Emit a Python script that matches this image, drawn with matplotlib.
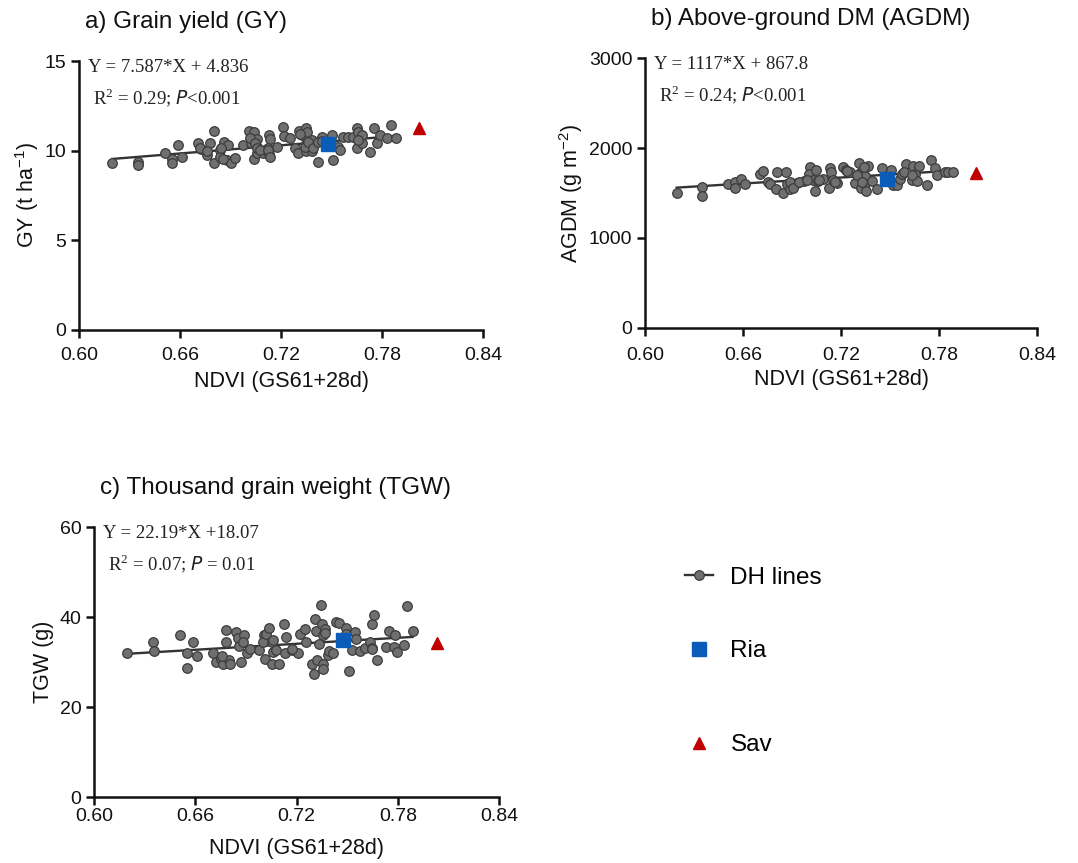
import matplotlib
matplotlib.use("Agg")
import matplotlib.pyplot as plt
from matplotlib.lines import Line2D
import numpy as np

plt.rcParams['font.family'] = ['Liberation Sans', 'DejaVu Sans']

# ---------------- data ----------------
# Panel a: Grain yield
gy_ndvi = [0.6198, 0.6352, 0.6352, 0.651, 0.655, 0.655, 0.6586, 0.661, 0.6709, 0.6722,
           0.6762, 0.6778, 0.6804, 0.6804, 0.6838, 0.6838, 0.6861, 0.6887, 0.6877, 0.6903,
           0.6927, 0.6976, 0.7012, 0.704, 0.702, 0.7055, 0.706, 0.704, 0.7055, 0.7095,
           0.713, 0.7133, 0.712, 0.713, 0.7174, 0.7209, 0.7217, 0.7253, 0.7283, 0.7303,
           0.7307, 0.7323, 0.7349, 0.7357, 0.7349, 0.7349, 0.7382, 0.7386, 0.7418, 0.7442,
           0.7501, 0.7511, 0.754, 0.7551, 0.757, 0.760, 0.763, 0.765, 0.7657, 0.765,
           0.768, 0.768, 0.7729, 0.7752, 0.7769, 0.7788, 0.7828, 0.7851, 0.7883,
           0.6719, 0.6758, 0.6842, 0.6857, 0.7016, 0.7046, 0.7056, 0.7075, 0.7125, 0.7135,
           0.7313, 0.7343, 0.7362, 0.7392, 0.7422, 0.7446, 0.766]
gy_vals = [9.33, 9.35, 9.20, 9.85, 9.52, 9.30, 10.32, 9.63, 10.41, 10.10,
           9.76, 10.41, 11.10, 9.30, 10.04, 9.67, 10.50, 10.32, 9.48, 9.33,
           9.57, 10.32, 11.10, 11.02, 10.41, 10.63, 10.22, 9.52, 9.85, 9.89,
           10.88, 10.63, 10.15, 9.82, 10.22, 11.34, 10.82, 10.69, 10.13, 9.85,
           11.10, 10.89, 11.28, 11.06, 10.37, 9.96, 9.98, 10.60, 9.35, 10.78,
           10.88, 9.48, 10.22, 10.04, 10.78, 10.78, 10.78, 11.25, 11.06, 10.13,
           10.41, 10.88, 9.90, 11.25, 10.45, 10.88, 10.69, 11.43, 10.69,
           10.13, 9.98, 10.13, 9.52, 10.69, 10.41, 10.13, 10.04, 10.04, 9.67,
           10.95, 10.22, 10.50, 10.13, 10.50, 10.56, 10.60]
gy_ria = (0.748, 10.37)
gy_sav = (0.8022, 11.28)
gy_fit = (7.587, 4.836)

# Panel b: Above-ground DM
dm_ndvi = [0.6194, 0.6351, 0.6351, 0.651, 0.6551, 0.6551, 0.6588, 0.6612, 0.6704, 0.6725,
           0.6755, 0.6765, 0.6806, 0.6802, 0.6863, 0.6843, 0.6867, 0.689, 0.6928, 0.6975,
           0.701, 0.7006, 0.7027, 0.7041, 0.7047, 0.7061, 0.7092, 0.7133, 0.7137, 0.7129,
           0.7153, 0.7174, 0.721, 0.7231, 0.7255, 0.7286, 0.7312, 0.7316, 0.732, 0.7347,
           0.7353, 0.7367, 0.7347, 0.7388, 0.7418, 0.7449, 0.7504, 0.7516, 0.7545, 0.7561,
           0.7571, 0.7598, 0.7639, 0.7633, 0.7653, 0.7663, 0.768, 0.7729, 0.7751, 0.7775,
           0.779, 0.7837, 0.7857, 0.7888,
           0.689, 0.6909, 0.694, 0.699, 0.7063, 0.7165, 0.7236, 0.7297, 0.7338, 0.7328,
           0.7583, 0.7635]
dm_vals = [1503, 1563, 1467, 1596, 1626, 1559, 1655, 1596, 1707, 1745,
           1626, 1596, 1730, 1541, 1730, 1496, 1600, 1541, 1615, 1637,
           1785, 1707, 1640, 1526, 1756, 1630, 1660, 1774, 1737, 1552,
           1644, 1615, 1785, 1756, 1730, 1607, 1837, 1726, 1552, 1615,
           1526, 1800, 1693, 1637, 1541, 1774, 1756, 1589, 1589, 1660,
           1715, 1818, 1800, 1648, 1715, 1637, 1800, 1589, 1867, 1774,
           1704, 1737, 1737, 1737,
           1626, 1552, 1626, 1644, 1644, 1626, 1744, 1700, 1792, 1626,
           1731, 1700]
dm_ria = (0.748, 1652)
dm_sav = (0.8027, 1726)
dm_fit = (1117, 867.8)

# Panel c: Thousand grain weight
tgw_ndvi = [0.6198, 0.635, 0.6354, 0.651, 0.6554, 0.6554, 0.6587, 0.6613, 0.6706, 0.6722,
            0.6755, 0.6765, 0.6781, 0.6781, 0.6801, 0.6805, 0.6844, 0.6854, 0.686, 0.687,
            0.689, 0.688, 0.6904, 0.6927, 0.6979, 0.7008, 0.7002, 0.7022, 0.7038, 0.7012,
            0.7052, 0.7052, 0.7062, 0.7077, 0.7097, 0.7127, 0.7137, 0.7131, 0.7176, 0.7206,
            0.722, 0.7249, 0.7255, 0.7289, 0.7303, 0.7309, 0.7315, 0.7319, 0.7334, 0.7348,
            0.7354, 0.7358, 0.7358, 0.7358, 0.7368, 0.7388, 0.7394, 0.7418, 0.7433, 0.7453,
            0.7491, 0.7496, 0.7512, 0.7526, 0.7546, 0.7552, 0.7575, 0.7605, 0.7635, 0.7645,
            0.765, 0.7661, 0.765, 0.7675, 0.773, 0.775, 0.7779, 0.7783, 0.7793, 0.7839,
            0.7857, 0.7888, 0.676, 0.7063, 0.7172, 0.7368]
tgw_vals = [32.1, 34.4, 32.4, 35.9, 32.0, 28.7, 34.4, 31.3, 32.0, 30.0,
            30.7, 29.5, 37.2, 34.4, 30.4, 29.5, 36.7, 35.3, 33.5, 30.1,
            35.9, 34.4, 32.0, 33.0, 32.6, 35.9, 34.4, 36.3, 37.6, 30.7,
            34.4, 29.6, 32.2, 32.6, 29.5, 38.5, 35.6, 31.9, 32.6, 32.0,
            36.3, 37.4, 34.4, 29.5, 27.4, 39.6, 36.8, 30.4, 34.1, 42.6,
            38.5, 35.9, 29.6, 28.5, 37.4, 31.5, 32.4, 31.9, 38.9, 38.7,
            37.6, 36.3, 28.1, 32.6, 36.7, 35.2, 32.4, 33.1, 34.4, 33.1,
            38.5, 40.4, 33.0, 30.4, 33.3, 37.0, 33.3, 36.1, 32.2, 33.7,
            42.4, 36.9, 31.4, 34.9, 32.8, 36.5]
tgw_ria = (0.7477, 35.0)
tgw_sav = (0.803, 34.2)
tgw_fit = (22.19, 18.07)

x_ticks = [0.60, 0.66, 0.72, 0.78, 0.84]
x_ticklabels = ["0.60", "0.66", "0.72", "0.78", "0.84"]

# ---------------- style ----------------
W, H = 1078, 863
fig = plt.figure(figsize=(W / 100, H / 100), dpi=100)

dh_face = '#6f6f6f'
dh_edge = '#3c3c3c'
line_col = '#333333'
ria_col = '#0a5cb8'
sav_col = '#c00000'
MS = 6.9


def px_axes(left, top, right, bottom):
    return fig.add_axes([left / W, 1 - bottom / H, (right - left) / W, (bottom - top) / H])


def panel(ax, xs, ys, ria, sav, fit, ylim, yticks, ylabel, title, eq1, eq2,
          ylabelpad, xpad, xlabelpad):
    slope, icpt = fit
    xl = np.array([min(xs), max(xs)])
    ax.plot(xl, slope * xl + icpt, color=line_col, lw=1.7, zorder=2)
    ax.plot(xs, ys, 'o', ms=MS, mfc=dh_face, mec=dh_edge, mew=0.9, zorder=3)
    ax.plot([ria[0]], [ria[1]], 's', ms=9.5, color=ria_col, zorder=4)
    ax.plot([sav[0]], [sav[1]], '^', ms=9, color=sav_col, zorder=4)
    ax.set_xlim(0.60, 0.84)
    ax.set_ylim(*ylim)
    ax.set_xticks(x_ticks)
    ax.set_xticklabels(x_ticklabels)
    ax.set_yticks(yticks)
    for s in ('top', 'right'):
        ax.spines[s].set_visible(False)
    for s in ('left', 'bottom'):
        ax.spines[s].set_linewidth(1.8)
        ax.spines[s].set_color('#111111')
    ax.tick_params(direction='out', length=6, width=1.8, labelsize=14, color='#111111',
                   labelcolor='#111111', pad=3)
    ax.tick_params(axis='x', pad=xpad)
    ax.set_xlabel("NDVI (GS61+28d)", fontsize=15.5, labelpad=xlabelpad, color='#111111')
    ax.set_ylabel(ylabel, fontsize=15.5, labelpad=ylabelpad, color='#111111')
    ax.text(0.015, 1.145, title, transform=ax.transAxes, fontsize=17.5, ha='left', va='center',
            color='#111111')
    ax.text(0.022, 0.975, eq1, transform=ax.transAxes, fontsize=13.5, ha='left', va='center',
            family=['Liberation Serif', 'DejaVu Serif'], color='#222222')
    ax.text(0.035, 0.865, eq2, transform=ax.transAxes, fontsize=13.5, ha='left', va='center',
            family=['Liberation Serif', 'DejaVu Serif'], color='#222222')


axa = px_axes(79, 61, 483, 330)
panel(axa, gy_ndvi, gy_vals, gy_ria, gy_sav, gy_fit, (0, 15), [0, 5, 10, 15],
      r"GY (t ha$^{\mathregular{-1}}$)", "a) Grain yield (GY)",
      "Y = 7.587*X + 4.836", r"R$^{\mathregular{2}}$ = 0.29; $\mathit{P}$<0.001",
      2.5, 6.5, 5)

axb = px_axes(645, 58, 1037, 328)
panel(axb, dm_ndvi, dm_vals, dm_ria, dm_sav, dm_fit, (0, 3000), [0, 1000, 2000, 3000],
      r"AGDM (g m$^{\mathregular{-2}}$)", "b) Above-ground DM (AGDM)",
      "Y = 1117*X + 867.8", r"R$^{\mathregular{2}}$ = 0.24; $\mathit{P}$<0.001",
      3, 7.5, 4)

axc = px_axes(94, 527, 499, 797)
panel(axc, tgw_ndvi, tgw_vals, tgw_ria, tgw_sav, tgw_fit, (0, 60), [0, 20, 40, 60],
      "TGW (g)", "c) Thousand grain weight (TGW)",
      "Y = 22.19*X +18.07", r"R$^{\mathregular{2}}$ = 0.07; $\mathit{P}$ = 0.01",
      4, 2, 9)

h_dh = Line2D([], [], color=line_col, lw=1.7, marker='o', ms=MS, mfc=dh_face, mec=dh_edge, mew=0.9)
h_ria = Line2D([], [], ls='none', marker='s', ms=9.5, color=ria_col)
h_sav = Line2D([], [], ls='none', marker='^', ms=9, color=sav_col)
leg_kw = dict(frameon=False, fontsize=17.5, handlelength=1.15, handletextpad=0.72,
              borderpad=0, borderaxespad=0)
fig.legend([h_dh, h_ria], ["DH lines", "Ria"], loc='center left',
           bbox_to_anchor=(685 / W, 1 - 614.5 / H), labelspacing=2.1, **leg_kw)
fig.legend([h_sav], ["Sav"], loc='center left',
           bbox_to_anchor=(685 / W, 1 - 745 / H), **leg_kw)

fig.savefig("out.png", dpi=100)
